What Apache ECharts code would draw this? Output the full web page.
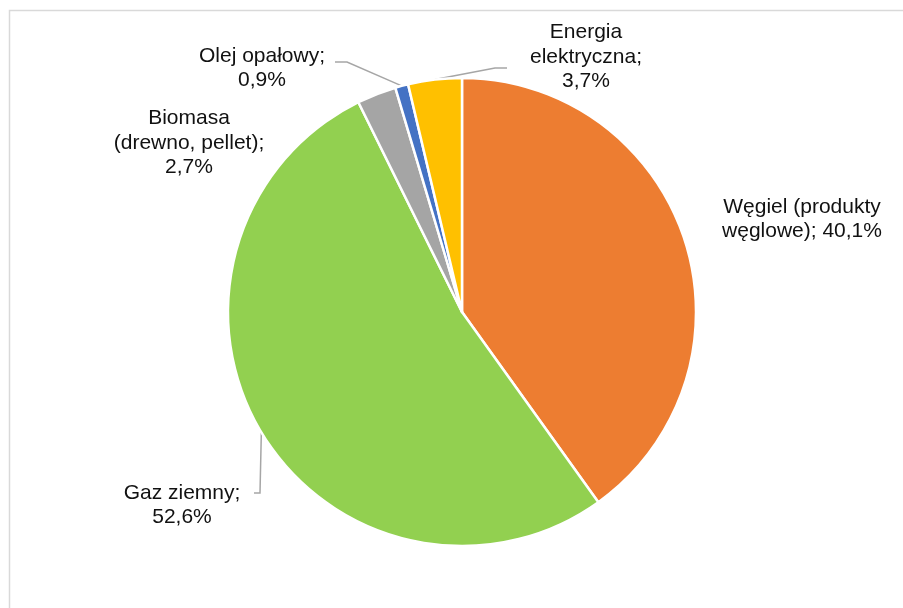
<!DOCTYPE html>
<html>
<head>
<meta charset="utf-8">
<script src="https://cdn.jsdelivr.net/npm/echarts@6/dist/echarts.min.js"></script>
<style>
  html, body { margin: 0; padding: 0; background: #fff; }
  #chart { width: 903px; height: 608px; }
</style>
</head>
<body>
<div id="chart"></div>
<script>
// udział nośników energii
const categories = [
  "Węgiel (produkty\nwęglowe)",
  "Gaz ziemny",
  "Biomasa\n(drewno, pellet)",
  "Olej opałowy",
  "Energia\nelektryczna"
];
const shares = [40.1, 52.6, 2.7, 0.9, 3.7];
const colors = ["#ED7D31", "#92D050", "#A5A5A5", "#4472C4", "#FFC000"];
const separators = ["; ", ";\n", ";\n", ";\n", ";\n"];
const withLeader = [false, true, false, true, true];

// label block centres and leader bends (relative to label centre)
const labelSpots = [[802, 219], [182, 505], [189, 143], [262, 68], [586, 57]];
const leaderBends = {
  1: [[78, -12], [72, -12]],
  3: [[85, -6], [73, -6]],
  4: [[-91, 11], [-79, 11]]
};

const chart = echarts.init(document.getElementById("chart"));
chart.setOption({
  animation: false,
  graphic: [
    {
      type: "rect",
      shape: { x: 9.5, y: 10.5, width: 920, height: 640 },
      style: { fill: null, stroke: "#D9D9D9", lineWidth: 1.5 },
      silent: true
    }
  ],
  series: [
    {
      type: "pie",
      center: [462, 312],
      radius: 234,
      startAngle: 90,
      clockwise: true,
      avoidLabelOverlap: false,
      itemStyle: { borderColor: "#fff", borderWidth: 2.5 },
      label: {
        show: true,
        position: "outside",
        color: "#111",
        fontSize: 21,
        lineHeight: 24.5,
        fontFamily: "Liberation Sans, Arial, sans-serif",
        align: "center",
        formatter: function (p) {
          return p.name + separators[p.dataIndex] + String(p.value).replace(".", ",") + "%";
        }
      },
      labelLine: {
        show: true,
        lineStyle: { color: "#A6A6A6", width: 1.5 }
      },
      labelLayout: function (params) {
        const i = params.dataIndex;
        const x = labelSpots[i][0];
        const y = labelSpots[i][1];
        const out = { x: x, y: y, align: "center", verticalAlign: "middle" };
        const pts = params.labelLinePoints;
        if (pts && leaderBends[i]) {
          const b = leaderBends[i];
          out.labelLinePoints = [
            pts[0],
            [x + b[0][0], y + b[0][1]],
            [x + b[1][0], y + b[1][1]]
          ];
        }
        return out;
      },
      data: categories.map(function (name, i) {
        return {
          name: name,
          value: shares[i],
          itemStyle: { color: colors[i] },
          labelLine: { show: withLeader[i] }
        };
      })
    }
  ]
});
</script>
</body>
</html>
